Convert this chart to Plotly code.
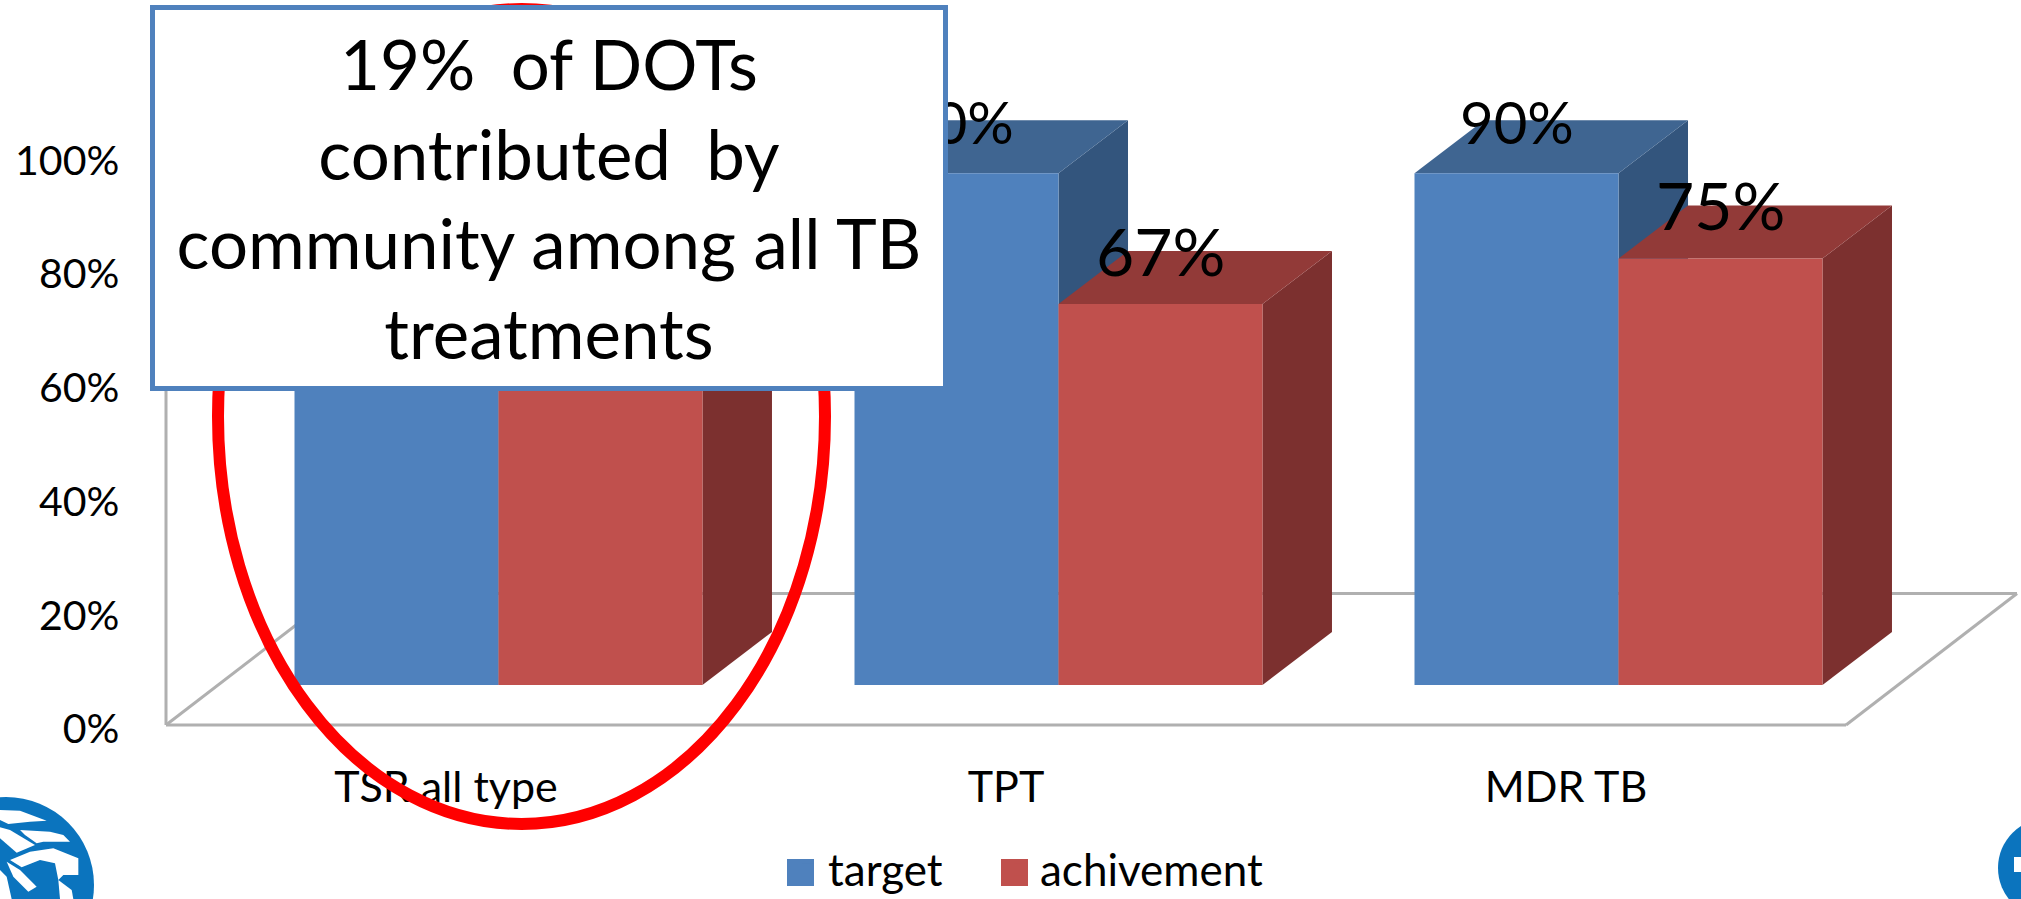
import plotly.graph_objects as go

# ---- data ----
CATEGORIES = ["TSR all type", "TPT", "MDR TB"]
TARGET = [90, 90, 90]        # first group is hidden behind the call-out: estimated
ACHIEVEMENT = [88, 67, 75]   # first group is hidden behind the call-out: estimated
SERIES_NAMES = ["target", "achivement"]
Y_TICKS = [0, 20, 40, 60, 80, 100]
Y_TICK_LABELS = ["0%", "20%", "40%", "60%", "80%", "100%"]
CALLOUT_LINES = ["19%\u00a0\u00a0of DOTs", "contributed\u00a0 by", "community among all TB", "treatments"]

# ---- canvas and scales ----
W, H = 2021, 899
PX_X = 560.0      # pixels per category
PX_Y = 5.686      # pixels per percentage point
X0_PX, Y0_PX = 446.0, 725.0   # pixel of category 0 and of 0 %
BAR_W = 204 / PX_X
BAR_SHIFT_X, BAR_BASE = 52.5 / PX_X, 40 / PX_Y
BAR_DX, BAR_DY = 69.5 / PX_X, 53 / PX_Y
FLOOR_DX, FLOOR_DY = 171 / PX_X, 131.5 / PX_Y
FLOOR_L, FLOOR_R = -0.5, 2.5

BLUE, BLUE_TOP, BLUE_SIDE = "#4F81BD", "#3F6591", "#33557D"
RED, RED_TOP, RED_SIDE = "#C0504D", "#923A38", "#7C302F"
GRID = "#B0B0B0"
FONT = "Lato"
LOGO = "#0B74BE"


def px(x):
    return x / W


def py(y):
    return 1 - y / H


def poly(points):
    return "M" + "L".join(f"{a:.4f},{b:.4f}" for a, b in points) + "Z"


def paper_poly(points):
    return "M" + "L".join(f"{px(a):.5f},{py(b):.5f}" for a, b in points) + "Z"


shapes = []

# floor and wall lines of the 3-D frame
floor = [
    [(FLOOR_L, 0), (FLOOR_R, 0)],
    [(FLOOR_R, 0), (FLOOR_R + FLOOR_DX, FLOOR_DY)],
    [(FLOOR_L + FLOOR_DX, FLOOR_DY), (FLOOR_R + FLOOR_DX, FLOOR_DY)],
    [(FLOOR_L, 0), (FLOOR_L + FLOOR_DX, FLOOR_DY)],
    [(FLOOR_L, 0), (FLOOR_L, 100)],
]
for (a, b), (c, d) in floor:
    shapes.append(dict(type="line", xref="x", yref="y", x0=a, y0=b, x1=c, y1=d,
                       layer="below", line=dict(color=GRID, width=3)))

# side and top faces of the bars, from the values
for i in range(len(CATEGORIES)):
    for j, (vals, top_c, side_c) in enumerate([(TARGET, BLUE_TOP, BLUE_SIDE),
                                               (ACHIEVEMENT, RED_TOP, RED_SIDE)]):
        left = i + BAR_SHIFT_X + (j - 1) * BAR_W
        right = left + BAR_W
        top = BAR_BASE + vals[i]
        side = [(right, BAR_BASE), (right + BAR_DX, BAR_BASE + BAR_DY),
                (right + BAR_DX, top + BAR_DY), (right, top)]
        roof = [(left, top), (left + BAR_DX, top + BAR_DY),
                (right + BAR_DX, top + BAR_DY), (right, top)]
        shapes.append(dict(type="path", xref="x", yref="y", path=poly(side), layer="below",
                           fillcolor=side_c, line=dict(width=0)))
        shapes.append(dict(type="path", xref="x", yref="y", path=poly(roof), layer="below",
                           fillcolor=top_c, line=dict(width=0)))

# red ellipse around the first group (above the tick labels, under the call-out)
shapes.append(dict(type="circle", xref="paper", yref="paper",
                   x0=px(218), x1=px(825), y0=py(824), y1=py(9),
                   line=dict(color="#FF0000", width=12), layer="above"))

# legend keys, enlarged
for x_left, colour in [(787, BLUE), (1001, RED)]:
    shapes.append(dict(type="rect", xref="paper", yref="paper",
                       x0=px(x_left), x1=px(x_left + 27), y0=py(886), y1=py(859),
                       fillcolor=colour, line=dict(width=0), layer="above"))

# partial logos at the bottom corners
shapes.append(dict(type="circle", xref="paper", yref="paper",
                   x0=px(-82), x1=px(94), y0=py(973), y1=py(797),
                   fillcolor=LOGO, line=dict(width=0), layer="above"))
weave = [
    [(0, 90), (60, 92), (140, 122), (90, 125), (25, 132), (0, 120)],
    [(60, 150), (150, 155), (190, 165), (210, 185), (130, 185), (110, 190), (75, 165)],
    [(0, 142), (30, 150), (105, 195), (50, 218), (0, 175)],
    [(30, 240), (90, 215), (160, 205), (235, 235), (235, 285), (190, 285), (175, 300), (165, 250), (120, 240), (65, 262)],
    [(20, 245), (60, 270), (110, 320), (85, 335), (40, 290)],
    [(175, 300), (215, 330), (220, 357), (180, 357)],
    [(0, 270), (20, 290), (35, 357), (0, 357)],
]
for piece in weave:
    pts = [(a / 3, 780 + b / 3) for a, b in piece]
    shapes.append(dict(type="path", xref="paper", yref="paper", path=paper_poly(pts),
                       fillcolor="#FFFFFF", line=dict(width=0), layer="above"))
shapes.append(dict(type="circle", xref="paper", yref="paper",
                   x0=px(1998), x1=px(2098), y0=py(918), y1=py(818),
                   fillcolor=LOGO, line=dict(width=0), layer="above"))
shapes.append(dict(type="rect", xref="paper", yref="paper",
                   x0=px(2014), x1=px(2021), y0=py(872), y1=py(857),
                   fillcolor="#FFFFFF", line=dict(width=0), layer="above"))

fig = go.Figure()
fig.add_trace(go.Bar(name=SERIES_NAMES[0], x=CATEGORIES, y=TARGET, base=BAR_BASE,
                     width=BAR_W, offset=BAR_SHIFT_X - BAR_W, legend="legend",
                     marker=dict(color=BLUE, line=dict(width=0))))
fig.add_trace(go.Bar(name=SERIES_NAMES[1], x=CATEGORIES, y=ACHIEVEMENT, base=BAR_BASE,
                     width=BAR_W, offset=BAR_SHIFT_X, legend="legend2",
                     marker=dict(color=RED, line=dict(width=0))))

# data labels
annotations = []
for i in range(len(CATEGORIES)):
    for j, (vals, size, lift) in enumerate([(TARGET, 58, 52), (ACHIEVEMENT, 66, 54)]):
        annotations.append(dict(
            x=i + BAR_SHIFT_X + (j - 0.5) * BAR_W, y=BAR_BASE + vals[i],
            xref="x", yref="y", text=f"{vals[i]}%", showarrow=False,
            yshift=lift, xanchor="center", yanchor="middle",
            font=dict(family=FONT, size=size, color="#000000")))

# call-out box covers the first group
annotations.append(dict(
    x=px(548.75), y=py(198.5), xref="paper", yref="paper", xanchor="center", yanchor="middle",
    text="<br>".join(CALLOUT_LINES), showarrow=False, align="center",
    width=788, height=376, bgcolor="#FFFFFF", bordercolor=BLUE, borderwidth=5, borderpad=0,
    font=dict(family=FONT, size=69, color="#000000")))

legend_style = dict(orientation="h", y=py(905), xanchor="left", yanchor="bottom",
                    font=dict(family=FONT, size=44), bgcolor="rgba(0,0,0,0)",
                    itemwidth=30)

fig.update_layout(
    width=W, height=H, margin=dict(l=0, r=0, t=0, b=0, pad=0, autoexpand=False), autosize=False,
    paper_bgcolor="#FFFFFF", plot_bgcolor="#FFFFFF", barmode="overlay",
    font=dict(family=FONT, color="#000000"),
    shapes=shapes, annotations=annotations,
    showlegend=True,
    legend=dict(x=px(788), **legend_style),
    legend2=dict(x=px(1000), **legend_style),
    xaxis=dict(type="category", categoryorder="array", categoryarray=CATEGORIES,
               range=[-X0_PX / PX_X, (W - X0_PX) / PX_X], domain=[0, 1],
               anchor="free", position=(H - Y0_PX) / H,
               showgrid=False, zeroline=False, showline=False,
               ticks="outside", ticklen=24, tickcolor="rgba(0,0,0,0)",
               tickfont=dict(family=FONT, size=43, color="#000000"), tickangle=0,
               automargin=False),
    yaxis=dict(range=[-(H - Y0_PX) / PX_Y, Y0_PX / PX_Y], domain=[0, 1],
               anchor="free", position=166.5 / W,
               tickmode="array", tickvals=Y_TICKS, ticktext=Y_TICK_LABELS,
               showgrid=False, zeroline=False, showline=False,
               ticks="outside", ticklen=39, tickcolor="rgba(0,0,0,0)",
               tickfont=dict(family=FONT, size=41, color="#000000"),
               ticklabelshift=4,
               automargin=False),
)

fig.write_html("out.html", config=dict(displayModeBar=False),
               post_script="document.body.style.margin='0';")
